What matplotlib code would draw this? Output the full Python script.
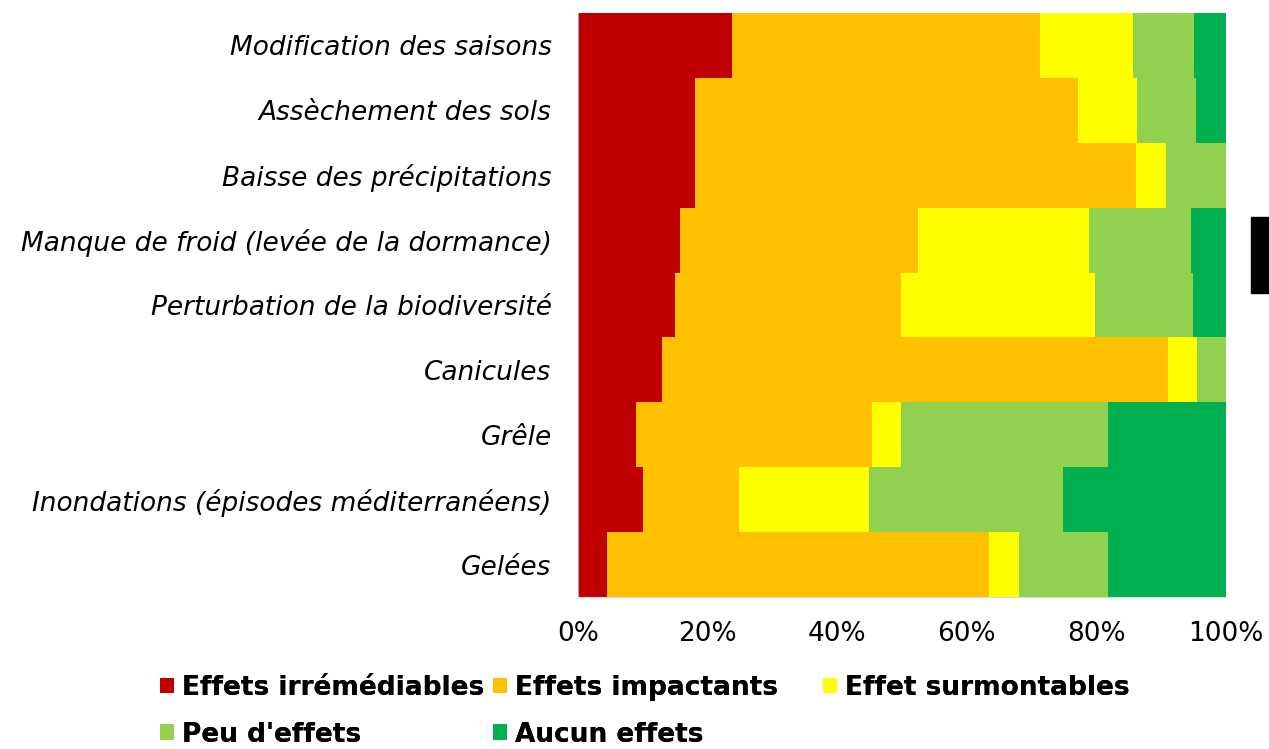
import numpy as np
import matplotlib.pyplot as plt
from matplotlib.patches import Rectangle, Patch
from matplotlib.ticker import PercentFormatter

plt.rcParams["font.family"] = ["DejaVu Sans"]

categories = [
    "Modification des saisons",
    "Assèchement des sols",
    "Baisse des précipitations",
    "Manque de froid (levée de la dormance)",
    "Perturbation de la biodiversité",
    "Canicules",
    "Grêle",
    "Inondations (épisodes méditerranéens)",
    "Gelées",
]

# share of answers per category (%), top row first
irremediables = [23.7, 18.1, 18.1, 15.7, 14.9, 13.0, 9.0, 10.0, 4.5]
impactants = [47.6, 59.0, 68.0, 36.8, 35.0, 78.1, 36.4, 14.9, 58.9]
surmontables = [14.3, 9.1, 4.7, 26.4, 29.9, 4.4, 4.5, 20.0, 4.7]
peu_effets = [9.5, 9.2, 9.2, 15.7, 15.1, 4.5, 31.9, 30.0, 13.7]
aucun_effets = [4.9, 4.6, 0.0, 5.4, 5.1, 0.0, 18.2, 25.1, 18.2]

series = [
    ("Effets irrémédiables", irremediables, "#C00000"),
    ("Effets impactants", impactants, "#FFC000"),
    ("Effet surmontables", surmontables, "#FFFF00"),
    ("Peu d'effets", peu_effets, "#92D050"),
    ("Aucun effets", aucun_effets, "#00B050"),
]

FS = 19

fig = plt.figure(figsize=(12.69, 7.49), dpi=100)
ax = fig.add_axes([578 / 1269, 1 - 597 / 749, 648 / 1269, 584 / 749])

y = np.arange(len(categories))[::-1]
left = np.zeros(len(categories))
handles = []
for label, vals, color in series:
    vals = np.array(vals)
    ax.barh(y, vals, left=left, height=1.0, color=color, edgecolor="none", zorder=2)
    left += vals
    handles.append(Patch(facecolor=color, edgecolor="none", label=label))

ax.set_xlim(0, 100)
ax.set_ylim(-0.5, len(categories) - 0.5)
ax.set_yticks(y)
ax.set_yticklabels(categories, fontsize=FS, style="italic")
ax.set_xticks(np.arange(0, 101, 20))
ax.xaxis.set_major_formatter(PercentFormatter(decimals=0))
ax.tick_params(axis="x", labelsize=FS, length=0, pad=17)
ax.tick_params(axis="y", length=0, pad=19)
ax.grid(axis="x", color="#d9d9d9", lw=0.8, zorder=0)

for side in ["top", "right"]:
    ax.spines[side].set_visible(False)
ax.spines["left"].set_color("#a6a6a6")
ax.spines["bottom"].set_color("#d9d9d9")

# legend laid out in three fixed-width columns
columns = [([handles[0], handles[3]], 160), ([handles[1], handles[4]], 493), ([handles[2]], 823)]
for hs, xpix in columns:
    leg = fig.legend(
        handles=hs,
        loc="upper left",
        bbox_to_anchor=(xpix / 1269, 1 - 675 / 749),
        frameon=False,
        prop={"size": FS, "weight": "bold"},
        handlelength=0.53,
        handleheight=0.53,
        handletextpad=0.3,
        labelspacing=0.78,
        borderpad=0,
        borderaxespad=0,
    )
    fig.add_artist(leg)

fig.patches.append(Rectangle((1251 / 1269, 1 - 293 / 749), 18 / 1269, 76 / 749,
                             transform=fig.transFigure, color="black"))

fig.savefig("out.png", dpi=100)
